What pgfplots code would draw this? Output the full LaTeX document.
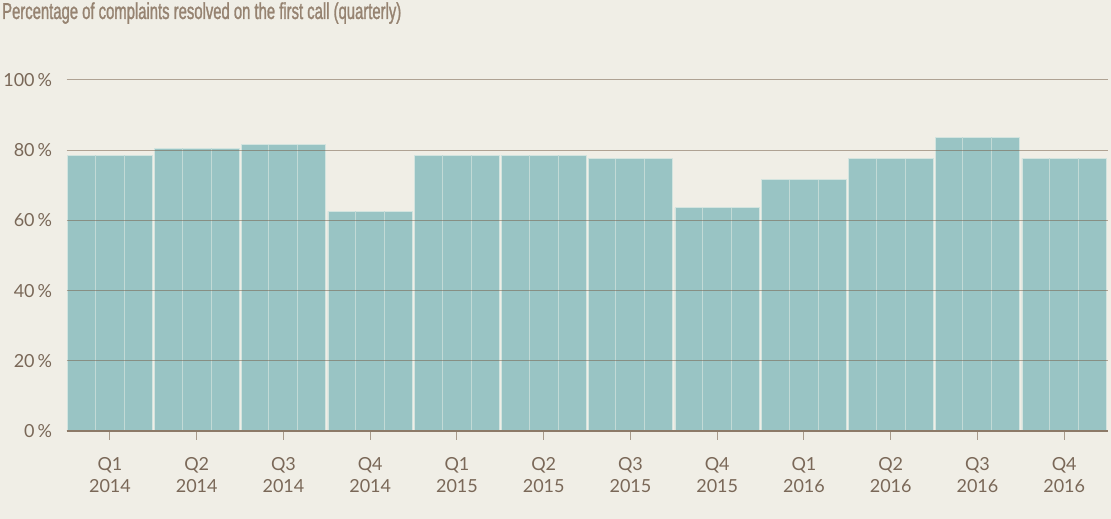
\documentclass[border=0pt]{standalone}
\usepackage{pgfplots}
\pgfplotsset{compat=1.18}
\usepackage{fontspec}
\setmainfont{Lato}
\newfontfamily\titlefont[FakeStretch=0.645, FakeBold=1.2]{Liberation Sans}

\definecolor{bgc}{HTML}{F0EEE6}
\definecolor{barc}{HTML}{99C4C4}
\definecolor{baredge}{HTML}{D3E4DF}
\definecolor{monthc}{HTML}{C2DAD6}
\definecolor{gridc}{HTML}{7A6550}
\definecolor{axisc}{HTML}{8C7A68}
\definecolor{tickc}{HTML}{A89A8A}
\definecolor{labelc}{HTML}{7A6858}
\definecolor{titlec}{HTML}{968371}

\begin{document}
\begin{tikzpicture}
\fill[bgc] (0,0) rectangle (1111pt,519pt);
\node[anchor=base west, inner sep=0pt, text=titlec, font=\titlefont\fontsize{23}{26}\selectfont]
  at (2pt,500pt) {Percentage of complaints resolved on the first call (quarterly)};
\begin{axis}[
  at={(66.6pt,88pt)}, anchor=south west,
  scale only axis, width=1041pt, height=351pt,
  xmin=0, xmax=12, ymin=0, ymax=100,
  axis on top,
  axis x line*=bottom, axis y line*=left,
  x axis line style={color=axisc, line width=2pt},
  y axis line style={draw=none},
  xtick={0.5,1.5,...,11.5},
  xticklabels={Q1\\2014,Q2\\2014,Q3\\2014,Q4\\2014,Q1\\2015,Q2\\2015,Q3\\2015,Q4\\2015,Q1\\2016,Q2\\2016,Q3\\2016,Q4\\2016},
  xtick align=outside, major tick length=9pt,
  xtick style={color=tickc, line width=1pt},
  xticklabel style={align=center, text=labelc, yshift=-14pt,
    font=\fontsize{18}{22}\selectfont},
  ytick={0,20,...,100},
  ytick style={draw=none},
  /pgf/number format/assume math mode=true,
  yticklabel={\pgfmathprintnumber{\tick}\,\%},
  yticklabel style={text=labelc, xshift=-11pt,
    font=\fontsize{18}{22}\selectfont},
  ymajorgrids, grid style={color=gridc, opacity=0.55, line width=1pt},
]
\addplot[ybar, bar width=0.975, fill=barc, draw=baredge, line width=0.7pt]
coordinates {
(0.5,78.6) (1.5,80.6) (2.5,81.6) (3.5,62.6)
(4.5,78.6) (5.5,78.6) (6.5,77.6) (7.5,63.6)
(8.5,71.6) (9.5,77.6) (10.5,83.7) (11.5,77.7)
};
\addplot[ycomb, mark=none, draw=monthc, line width=1pt]
coordinates {
(0.333,78.6) (0.667,78.6) (1.333,80.6) (1.667,80.6) (2.333,81.6) (2.667,81.6)
(3.333,62.6) (3.667,62.6) (4.333,78.6) (4.667,78.6) (5.333,78.6) (5.667,78.6)
(6.333,77.6) (6.667,77.6) (7.333,63.6) (7.667,63.6) (8.333,71.6) (8.667,71.6)
(9.333,77.6) (9.667,77.6) (10.333,83.7) (10.667,83.7) (11.333,77.7) (11.667,77.7)
};
\end{axis}
\end{tikzpicture}
\end{document}
